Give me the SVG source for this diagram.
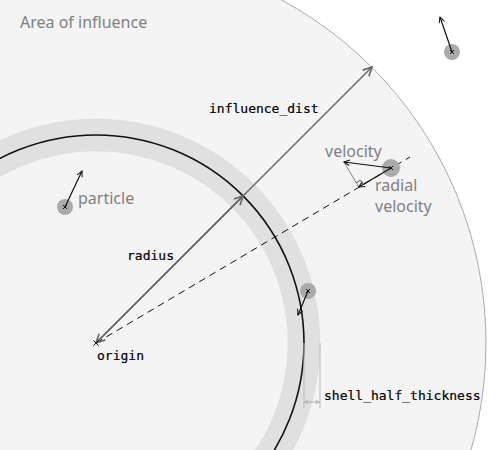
<svg xmlns="http://www.w3.org/2000/svg" width="500" height="450" viewBox="0 0 500 450">
<style>
.lbl{font-family:"Noto Sans","Open Sans",sans-serif;font-size:16px;fill:#808080}
.code{font-family:"DejaVu Sans Mono","Liberation Mono",monospace;font-size:13px;fill:#000;stroke:#000;stroke-width:0.2}
.pdot{fill:#aaaaaa}
.vel{stroke:#111;stroke-width:1.2;fill:none;marker-end:url(#ah)}
.cross{stroke:#111;stroke-width:1;fill:none}
.meas{stroke:#666;stroke-width:1.5;fill:none}
</style>
<defs>
<marker id="ah" viewBox="0 0 10 10" refX="9" refY="5" markerWidth="7" markerHeight="7" markerUnits="userSpaceOnUse" orient="auto-start-reverse">
<path d="M1,1 L9,5 L1,9" fill="none" stroke="#111" stroke-width="1.5"/>
</marker>
<marker id="ahg" viewBox="0 0 10 10" refX="9" refY="5" markerWidth="11" markerHeight="11" markerUnits="userSpaceOnUse" orient="auto-start-reverse">
<path d="M1,1 L9,5 L1,9" fill="none" stroke="#666" stroke-width="1.5"/>
</marker>
<marker id="ahs" viewBox="0 0 10 10" refX="9" refY="5" markerWidth="5" markerHeight="5" markerUnits="userSpaceOnUse" orient="auto-start-reverse">
<path d="M1,1 L9,5 L1,9" fill="none" stroke="#aaa" stroke-width="1.5"/>
</marker>
</defs>
<rect width="500" height="450" fill="#ffffff"/>
<g id="influence-area">
<circle cx="96" cy="343" r="390" fill="#f4f4f4" stroke="#aaaaaa" stroke-width="1"/>
<text class="lbl" x="20" y="28">Area of influence</text>
</g>
<g id="shell">
<circle cx="96" cy="343" r="208" fill="none" stroke="#e0e0e0" stroke-width="32"/>
<circle cx="96" cy="343" r="224" fill="none" stroke="#cfcfcf" stroke-width="0.6" stroke-dasharray="1 1.5"/>
<circle cx="96" cy="343" r="192" fill="none" stroke="#cfcfcf" stroke-width="0.6" stroke-dasharray="1 1.5"/>
<circle cx="96" cy="343" r="208" fill="none" stroke="#111" stroke-width="1.6"/>
</g>
<g id="connectors">
<line x1="96" y1="343" x2="410" y2="157" stroke="#111" stroke-width="1" stroke-dasharray="7 5"/>
<line class="meas" x1="96" y1="343" x2="372" y2="67" marker-end="url(#ahg)"/>
<line class="meas" x1="96" y1="343" x2="243.1" y2="195.9" marker-start="url(#ahg)" marker-end="url(#ahg)"/>
<text class="code" x="209" y="113">influence_dist</text>
<text class="code" x="127" y="260">radius</text>
</g>
<g id="origin">
<path class="cross" d="M93.5,340.5 L98.5,345.5 M98.5,340.5 L93.5,345.5"/>
<text class="code" x="97" y="360">origin</text>
</g>
<g id="particle-left">
<circle class="pdot" cx="65" cy="207" r="8"/>
<line class="vel" x1="65" y1="207" x2="82" y2="171"/>
<path class="cross" d="M63,205 L67,209 M67,205 L63,209"/>
<text class="lbl" x="78" y="204">particle</text>
</g>
<g id="particle-top-right">
<circle class="pdot" cx="452" cy="52" r="8"/>
<line class="vel" x1="452" y1="52" x2="440" y2="17"/>
<path class="cross" d="M450,50 L454,54 M454,50 L450,54"/>
</g>
<g id="particle-shell">
<circle class="pdot" cx="308" cy="291" r="8"/>
<line class="vel" x1="308" y1="291" x2="298" y2="315"/>
<path class="cross" d="M306,289 L310,293 M310,289 L306,293"/>
</g>
<g id="particle-velocity">
<circle class="pdot" cx="391" cy="168" r="9"/>
<line x1="344" y1="162" x2="358.8" y2="187" stroke="#666" stroke-width="0.8"/>
<path d="M356.2,182.7 L360.5,180.2 L363.1,184.5" fill="none" stroke="#333" stroke-width="0.8"/>
<line class="vel" x1="391" y1="168" x2="344" y2="162"/>
<line class="vel" x1="391" y1="168" x2="358.8" y2="187"/>
<path class="cross" d="M389,166 L393,170 M393,166 L389,170"/>
<text class="lbl" x="325" y="157">velocity</text>
<text class="lbl" x="375" y="191">radial</text>
<text class="lbl" x="375" y="212">velocity</text>
</g>
<g id="shell-half-thickness">
<line x1="304" y1="343" x2="304" y2="408" stroke="#bbb" stroke-width="1"/>
<line x1="320" y1="343" x2="320" y2="408" stroke="#bbb" stroke-width="1"/>
<line x1="304.5" y1="402" x2="319.5" y2="402" stroke="#aaa" stroke-width="1" marker-start="url(#ahs)" marker-end="url(#ahs)"/>
<text class="code" x="324" y="400">shell_half_thickness</text>
</g>
</svg>
